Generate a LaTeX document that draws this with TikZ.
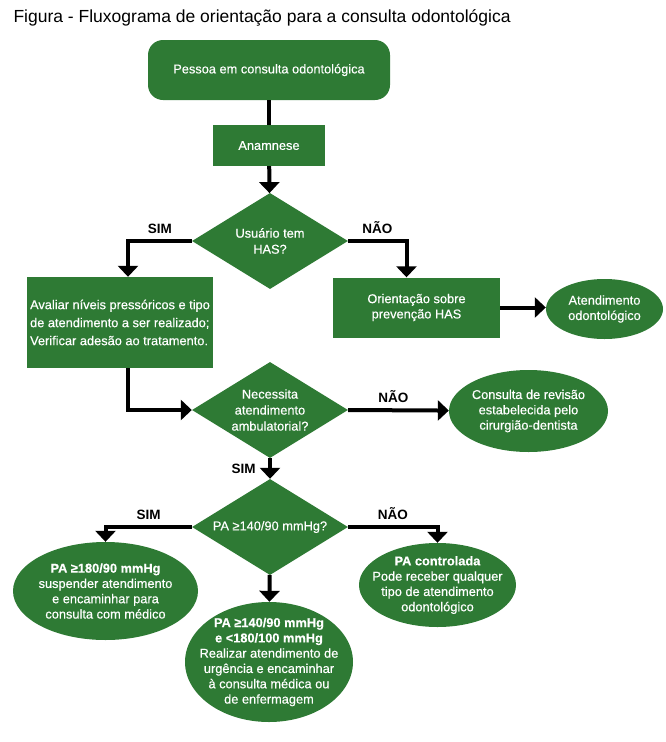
\documentclass[tikz,border=0pt]{standalone}
\usepackage{fontspec}
\setmainfont{Liberation Sans}
\newfontfamily\caixafont{Liberation Sans}[FakeBold=0.4]
\usepackage{tikz}
\usetikzlibrary{arrows.meta, shapes.geometric}
\definecolor{verde}{HTML}{2E7A34}

\begin{document}
\begin{tikzpicture} [x=1pt, y=-1pt,
	nodes={text=white, font=\caixafont\fontsize{12.8}{15.3}\selectfont, align=center},
	caixa/.style={fill=verde, inner sep=0pt},
	decisao/.style={diamond, fill=verde, inner sep=0pt, aspect=1.625,
		minimum width=156pt, minimum height=96pt,
		font=\caixafont\fontsize{12.8}{16}\selectfont},
	elipse/.style={ellipse, fill=verde, inner sep=-10pt},
	linha/.style={line width=4pt},
	seta/.style={line width=4pt, -{Triangle[width=20pt, length=11pt]}},
	rotulo/.style={text=black, font=\bfseries\fontsize{13.5}{15}\selectfont}]
	
	\useasboundingbox (0,0) rectangle (666,742);
	
	\node[anchor=west, text=black, font=\fontsize{17.5}{20}\selectfont] (titulo) at (10,18)
		{Figura - Fluxograma de orientação para a consulta odontológica};
	
	% caixas e decisoes
	\node[caixa, rounded corners=15pt, minimum width=242pt, minimum height=60pt] (pessoa) at (269,70)
		{Pessoa em consulta odontológica};
	\node[caixa, minimum width=112pt, minimum height=41pt] (anamnese) at (269,145.5) {Anamnese};
	\node[decisao] (has) at (270,241) {Usuário tem\\HAS?};
	\node[caixa, minimum width=186pt, minimum height=91pt, align=left,
		font=\caixafont\fontsize{12.8}{18}\selectfont] (avaliar) at (120,322.5)
		{Avaliar níveis pressóricos e tipo\\de atendimento a ser realizado;\\Verificar adesão ao tratamento.};
	\node[caixa, minimum width=167pt, minimum height=60pt] (orienta) at (416.5,307.5)
		{Orientação sobre\\prevenção HAS};
	\node[elipse, minimum width=117pt, minimum height=60pt] (atende) at (604.5,309)
		{Atendimento\\odontológico};
	\node[decisao] (ambul) at (270,410) {Necessita\\atendimento\\ambulatorial?};
	\node[elipse, minimum width=159pt, minimum height=82pt] (revisao) at (528.5,411)
		{Consulta de revisão\\estabelecida pelo\\cirurgião-dentista};
	\node[decisao] (pa) at (270,527) {PA ≥140/90 mmHg?};
	\node[elipse, minimum width=185pt, minimum height=98pt] (alta) at (105.5,591)
		{\textbf{PA ≥180/90 mmHg}\\suspender atendimento\\e encaminhar para\\consulta com médico};
	\node[elipse, minimum width=157pt, minimum height=84pt] (controlada) at (437.5,585)
		{\textbf{PA controlada}\\Pode receber qualquer\\tipo de atendimento\\odontológico};
	\node[elipse, minimum width=168pt, minimum height=120pt] (media) at (269,662)
		{\textbf{PA ≥140/90 mmHg}\\\textbf{e <180/100 mmHg}\\Realizar atendimento de\\urgência e encaminhar\\à consulta médica ou\\de enfermagem};
	
	% setas
	\draw[linha] (pessoa) -- (anamnese);
	\draw[seta] (anamnese) -- (has);
	\draw[seta] (has.west) -| node[rotulo, pos=0.25, above=2pt] {SIM} ([xshift=8pt]avaliar.north);
	\draw[seta] (has.east) -| node[rotulo, pos=0.25, above=2pt] {NÃO} ([xshift=-10pt]orienta.north);
	\draw[seta] (orienta.east) -- (orienta.east -| atende.west);
	\draw[seta] ([xshift=8pt]avaliar.south) |- (ambul.west);
	\draw[seta] (ambul.east) -- node[rotulo, pos=0.45, above=2pt] {NÃO} (revisao);
	\draw[seta] (ambul) -- node[rotulo, left=9pt] {SIM} (pa);
	\draw[seta] (pa.west) -| node[rotulo, pos=0.25, above=2pt] {SIM} (alta.north);
	\draw[seta] (pa.east) -| node[rotulo, pos=0.25, above=2pt] {NÃO} (controlada.north);
	\draw[seta] (pa) -- (media);
	
\end{tikzpicture}
\end{document}
